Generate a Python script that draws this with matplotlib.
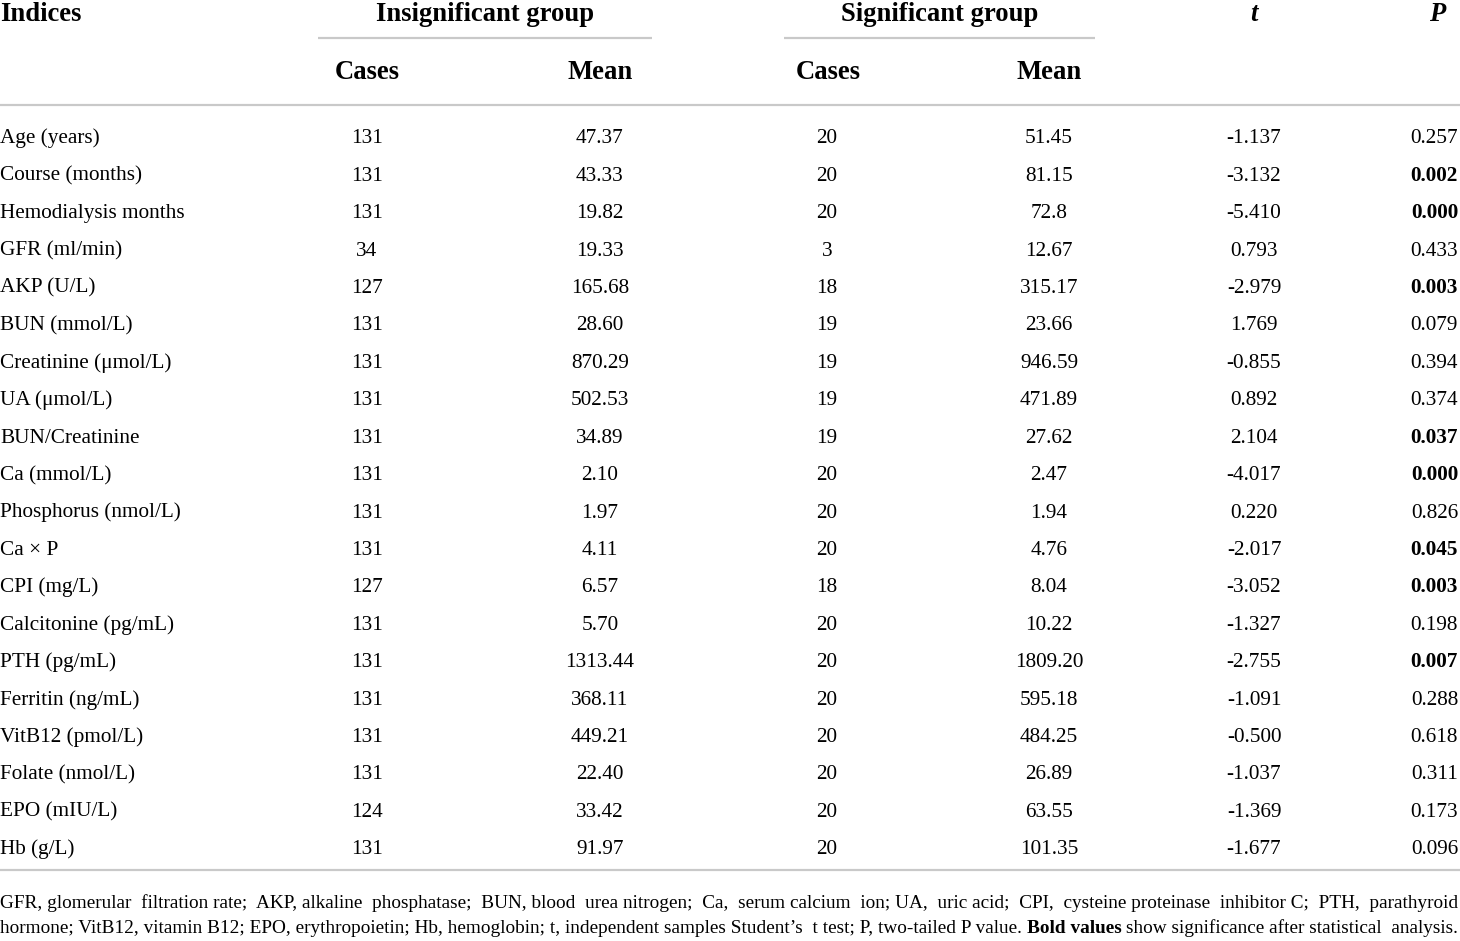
import matplotlib
matplotlib.use("Agg")
import matplotlib.pyplot as plt
from matplotlib.font_manager import FontProperties

# table data
indices = ["Age (years)", "Course (months)", "Hemodialysis months", "GFR (ml/min)",
           "AKP (U/L)", "BUN (mmol/L)", "Creatinine (\u03bcmol/L)", "UA (\u03bcmol/L)",
           "BUN/Creatinine", "Ca (mmol/L)", "Phosphorus (nmol/L)", "Ca \u00d7 P",
           "CPI (mg/L)", "Calcitonine (pg/mL)", "PTH (pg/mL)", "Ferritin (ng/mL)",
           "VitB12 (pmol/L)", "Folate (nmol/L)", "EPO (mIU/L)", "Hb (g/L)"]
insig_cases = [131, 131, 131, 34, 127, 131, 131, 131, 131, 131, 131, 131, 127, 131,
               131, 131, 131, 131, 124, 131]
insig_mean = ["47.37", "43.33", "19.82", "19.33", "165.68", "28.60", "870.29", "502.53",
              "34.89", "2.10", "1.97", "4.11", "6.57", "5.70", "1313.44", "368.11",
              "449.21", "22.40", "33.42", "91.97"]
sig_cases = [20, 20, 20, 3, 18, 19, 19, 19, 19, 20, 20, 20, 18, 20, 20, 20, 20, 20, 20, 20]
sig_mean = ["51.45", "81.15", "72.8", "12.67", "315.17", "23.66", "946.59", "471.89",
            "27.62", "2.47", "1.94", "4.76", "8.04", "10.22", "1809.20", "595.18",
            "484.25", "26.89", "63.55", "101.35"]
t_vals = ["-1.137", "-3.132", "-5.410", "0.793", "-2.979", "1.769", "-0.855", "0.892",
          "2.104", "-4.017", "0.220", "-2.017", "-3.052", "-1.327", "-2.755", "-1.091",
          "-0.500", "-1.037", "-1.369", "-1.677"]
p_vals = ["0.257", "0.002", "0.000", "0.433", "0.003", "0.079", "0.394", "0.374",
          "0.037", "0.000", "0.826", "0.045", "0.003", "0.198", "0.007", "0.288",
          "0.618", "0.311", "0.173", "0.096"]

footnote = [
    [("GFR, glomerular filtration rate; AKP, alkaline phosphatase; BUN, blood urea nitrogen; "
      "Ca, serum calcium ion; UA, uric acid; CPI, cysteine proteinase inhibitor C; PTH, parathyroid", False)],
    [("hormone; VitB12, vitamin B12; EPO, erythropoietin; Hb, hemoglobin; t, independent samples "
      "Student\u2019s t test; P, two-tailed P value.", False),
     ("Bold values", True),
     ("show significance after statistical analysis.", False)],
]

W, H = 1460, 941
fig = plt.figure(figsize=(W / 100, H / 100), dpi=100)
ax = fig.add_axes([0, 0, 1, 1])
ax.set_xlim(0, W)
ax.set_ylim(H, 0)
ax.axis("off")

serif = "Liberation Serif"
body = 15.3
head = 19.2
line_col = "#c9c9c9"

# header (baseline aligned)
hb1, hb2 = 21, 79
ax.text(0, hb1, "Indices", fontsize=head, fontweight="bold", family=serif, ha="left", va="baseline")
ax.text(485, hb1, "Insignificant group", fontsize=head, fontweight="bold", family=serif, ha="center", va="baseline")
ax.text(940, hb1, "Significant group", fontsize=head, fontweight="bold", family=serif, ha="center", va="baseline")
ax.text(1254, hb1, "t", fontsize=head, fontweight="bold", style="italic", family=serif, ha="center", va="baseline")
ax.text(1437, hb1, "P", fontsize=head, fontweight="bold", style="italic", family=serif, ha="center", va="baseline")
for x, s in [(367, "Cases"), (600, "Mean"), (828, "Cases"), (1049, "Mean")]:
    ax.text(x, hb2, s, fontsize=head, fontweight="bold", family=serif, ha="center", va="baseline")

ax.plot([318, 652], [38, 38], color=line_col, lw=1.6, solid_capstyle="butt")
ax.plot([784, 1095], [38, 38], color=line_col, lw=1.6, solid_capstyle="butt")
ax.plot([0, W], [104.5, 104.5], color=line_col, lw=1.6, solid_capstyle="butt")
ax.plot([0, W], [870, 870], color=line_col, lw=1.6, solid_capstyle="butt")

# body rows
y0, dy = 143.3, 37.42
for i, name in enumerate(indices):
    y = y0 + i * dy
    kw = dict(fontsize=body, family=serif, va="baseline")
    ax.text(0, y, name, ha="left", **kw)
    ax.text(367, y, str(insig_cases[i]), ha="center", **kw)
    ax.text(600, y, insig_mean[i], ha="center", **kw)
    ax.text(827, y, str(sig_cases[i]), ha="center", **kw)
    ax.text(1049, y, sig_mean[i], ha="center", **kw)
    ax.text(1254, y, t_vals[i], ha="center", **kw)
    bold = float(p_vals[i]) < 0.05
    ax.text(1458, y, p_vals[i], ha="right", fontweight="bold" if bold else "normal", **kw)

# footnote: justify by padding spaces (keeps each run as one text, no baseline jitter)
fig.canvas.draw()
renderer = fig.canvas.get_renderer()
right = 1458


def text_w(s, size, bold):
    fp = FontProperties(family=serif, size=size, weight="bold" if bold else "normal")
    return renderer.get_text_width_height_descent(s, fp, ismath=False)[0]


def split_words(segs):
    words = []
    for txt, b in segs:
        words.extend((w, b) for w in txt.split())
    return words


def natural_width(words, size):
    sp = text_w("a a", size, False) - text_w("aa", size, False)
    return sum(text_w(w, size, b) for w, b in words) + sp * (len(words) - 1), sp


fsize = 14.2
nat2, _ = natural_width(split_words(footnote[1]), fsize)
if nat2 > right:
    fsize *= right / nat2

for li, segs in enumerate(footnote):
    y = 908 + li * 25
    words = split_words(segs)
    nat, sp = natural_width(words, fsize)
    n = len(words) - 1
    n_extra = max(0, int(round((right - nat) / sp)))
    gaps = [1 + (j + 1) * n_extra // n - j * n_extra // n for j in range(n)]
    # group consecutive words of the same weight into one text
    groups = []
    for j, (w, b) in enumerate(words):
        if groups and groups[-1][1] == b:
            groups[-1][0] += " " * gaps[j - 1] + w
        else:
            groups.append([w, b, gaps[j - 1] if j > 0 else 0])
    x = 0
    for k, (s, b, lead) in enumerate(groups):
        x += lead * sp
        ax.text(x, y, s, fontsize=fsize, family=serif, ha="left", va="baseline",
                fontweight="bold" if b else "normal")
        x += text_w(s, fsize, b)

fig.savefig("out.png", dpi=100)
